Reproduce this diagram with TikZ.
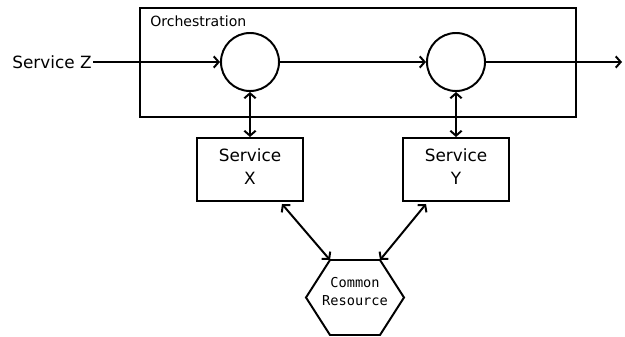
\documentclass[tikz,border=0pt]{standalone}
\usepackage{fontspec}
\setmainfont{DejaVu Sans}
\setmonofont{DejaVu Sans Mono}
\usetikzlibrary{arrows.meta, positioning, calc}

\tikzset{
  flow/.style={line width=1.4pt, -{Straight Barb[length=3.5pt,width=8pt]}},
  twoway/.style={line width=1.4pt, {Straight Barb[length=3.5pt,width=8pt]}-{Straight Barb[length=3.5pt,width=8pt]}},
  stage/.style={draw, circle, line width=1.4pt, minimum size=1.45cm, inner sep=0pt},
  svcbox/.style={draw, line width=1.4pt, minimum width=2.65cm, minimum height=1.575cm, text depth=0.15cm, align=center, font=\fontsize{12}{16.4}\selectfont}
}

\begin{document}
\begin{tikzpicture}[x=0.025cm, y=-0.025cm]
  \useasboundingbox (0,0) rectangle (625,336);

  % Orchestration frame
  \node[draw, line width=1.4pt, minimum width=10.9cm, minimum height=2.725cm] (orch) at (358,62.5) {};
  \node[anchor=west, inner sep=0pt, font=\fontsize{10}{12}\selectfont] (orchlbl) at (150,21) {Orchestration};

  % Steps inside the frame
  \node[stage] (c1) at (250,62) {};
  \node[stage] (c2) at (456,62) {};

  % Input and output
  \node[inner sep=1pt, font=\fontsize{12}{14}\selectfont] (svcZ) at (52,62) {Service Z};
  \coordinate (out) at (622,62);
  \draw[flow] (svcZ) -- (c1);
  \draw[flow] (c1) -- (c2);
  \draw[flow] (c2) -- (out);

  % Services
  \node[svcbox] (svcX) at (250,169.5) {Service\\X};
  \node[svcbox] (svcY) at (456,169.5) {Service\\Y};
  \draw[twoway] (c1) -- (svcX);
  \draw[twoway] (c2) -- (svcY);

  % Common resource
  \node[align=center, inner sep=0pt, font=\ttfamily\fontsize{9.7}{12.8}\selectfont] (res) at (355,292) {Common\\Resource};
  \coordinate (hexTL) at (330,260);
  \coordinate (hexTR) at (380,260);
  \draw[line width=1.4pt, line join=miter] (306,297.5) -- (hexTL) -- (hexTR) -- (404,297.5)
    -- (380,335) -- (330,335) -- cycle;
  \draw[twoway] ([xshift=-0.55cm, yshift=-0.05cm]svcX.south east) -- (hexTL);
  \draw[twoway] ([xshift=0.6cm, yshift=-0.05cm]svcY.south west) -- (hexTR);
\end{tikzpicture}
\end{document}
